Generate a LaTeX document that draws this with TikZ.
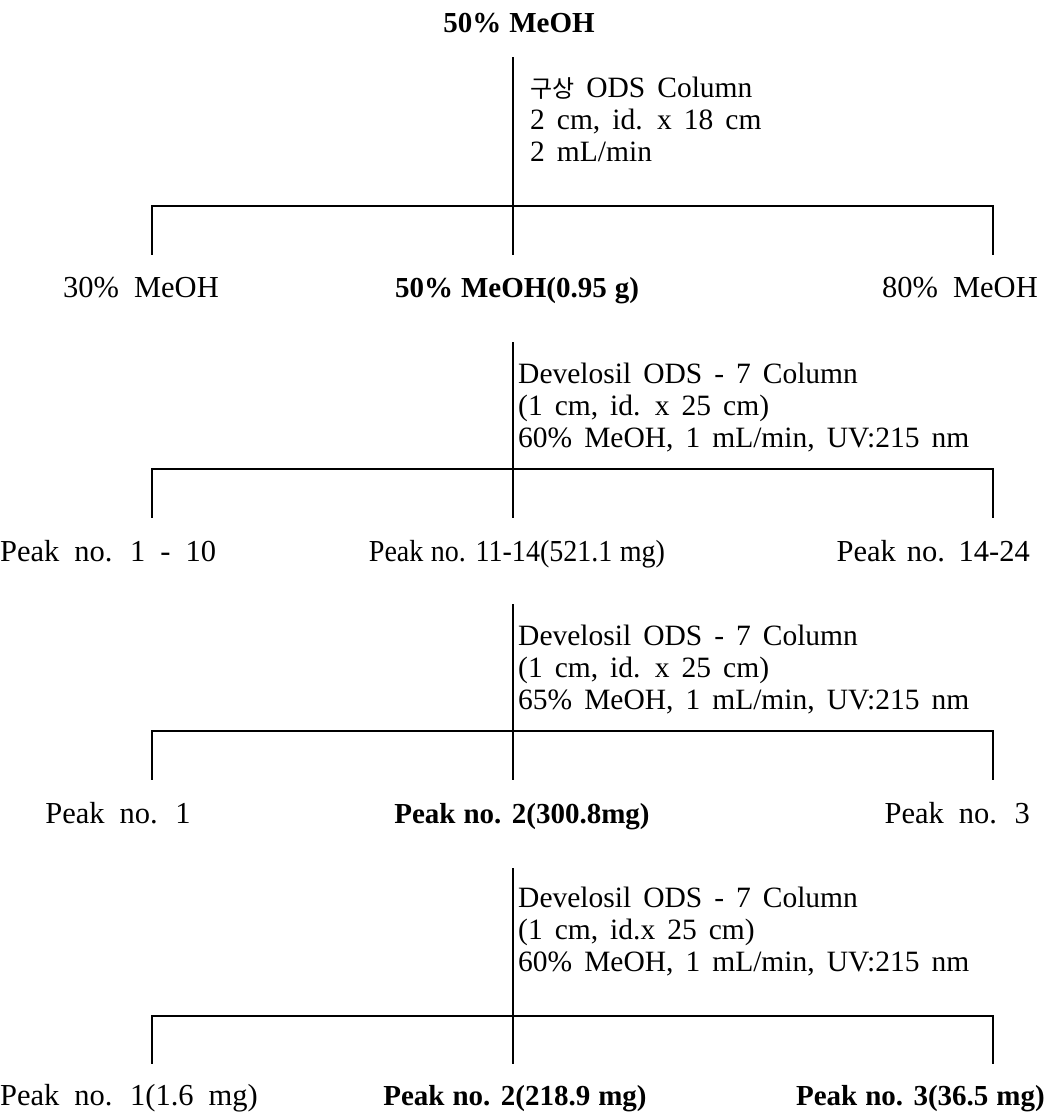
\documentclass[tikz,border=0pt]{standalone}
\usepackage{fontspec}
\newfontfamily\labfamily{Liberation Serif}
\newfontfamily\korfamily{Noto Sans CJK KR}
\newcommand{\labsize}{\fontsize{30.5}{32}\selectfont}
\newcommand{\labbsize}{\fontsize{29}{32}\selectfont}
\newcommand{\blksize}{\fontsize{29.5}{32}\selectfont}
\tikzset{
  ln/.style={line width=1.4pt, line cap=rect},
  ws/.style={execute at begin node={\spaceskip=#1pt\relax}},
  lab/.style={font=\labfamily\labsize, inner sep=0pt, ws=15},
  labb/.style={font=\labfamily\labbsize\bfseries, inner sep=0pt, ws=8},
  blk/.style={font=\labfamily\blksize, align=left, anchor=north west, inner sep=0pt, ws=12},
}
\newcommand{\blkstrut}{\rule{0pt}{25pt}}
\begin{document}
\begin{tikzpicture}[x=1pt,y=-1pt]
\useasboundingbox (0,0) rectangle (1050,1113);
% title
\node[labb, anchor=base] (title) at (519,33) {50\% MeOH};
% ---------- stage 1
\coordinate (top1) at (513,58);
\coordinate (bl1) at (152,206); \coordinate (br1) at (993,206);
\coordinate (el1) at (152,254); \coordinate (ec1) at (513,254); \coordinate (er1) at (993,254);
\draw[ln] (top1) -- (ec1);
\draw[ln] (el1) -- (bl1) -- (br1) -- (er1);
\node[blk] (blk1) at (530,72) {\blkstrut{\korfamily\fontsize{24}{32}\selectfont 구상} ODS Column\\2 cm, id. x 18 cm\\2 mL/min};
\node[lab, anchor=base] (r1l) at (141,297) {30\% MeOH};
\node[labb, anchor=base] (r1m) at (517,297) {50\% MeOH(0.95 g)};
\node[lab, anchor=base east] (r1r) at (1038,297) {80\% MeOH};
% ---------- stage 2
\coordinate (top2) at (513,343);
\coordinate (bl2) at (152,469); \coordinate (br2) at (993,469);
\coordinate (el2) at (152,517); \coordinate (ec2) at (513,517); \coordinate (er2) at (993,517);
\draw[ln] (top2) -- (ec2);
\draw[ln] (el2) -- (bl2) -- (br2) -- (er2);
\node[blk] (blk2) at (518,358) {\blkstrut Develosil ODS - 7 Column\\(1 cm, id. x 25 cm)\\60\% MeOH, 1 mL/min, UV:215 nm};
\node[lab, anchor=base west] (r2l) at (0,561) {Peak no. 1 - 10};
\node[lab, ws=8, anchor=base] (r2m) at (517,561) {\scalebox{0.92}[1]{Peak no. 11-14(521.1 mg)}};
\node[lab, ws=11, anchor=base east] (r2r) at (1030,561) {Peak no. 14-24};
% ---------- stage 3
\coordinate (top3) at (513,605);
\coordinate (bl3) at (152,731); \coordinate (br3) at (993,731);
\coordinate (el3) at (152,779); \coordinate (ec3) at (513,779); \coordinate (er3) at (993,779);
\draw[ln] (top3) -- (ec3);
\draw[ln] (el3) -- (bl3) -- (br3) -- (er3);
\node[blk] (blk3) at (518,620) {\blkstrut Develosil ODS - 7 Column\\(1 cm, id. x 25 cm)\\65\% MeOH, 1 mL/min, UV:215 nm};
\node[lab, anchor=base] (r3l) at (118,823) {Peak no. 1};
\node[labb, anchor=base] (r3m) at (522,823) {Peak no. 2(300.8mg)};
\node[lab, anchor=base east] (r3r) at (1030,823) {Peak no. 3};
% ---------- stage 4
\coordinate (top4) at (513,869);
\coordinate (bl4) at (152,1016); \coordinate (br4) at (993,1016);
\coordinate (el4) at (152,1063); \coordinate (ec4) at (513,1063); \coordinate (er4) at (993,1063);
\draw[ln] (top4) -- (ec4);
\draw[ln] (el4) -- (bl4) -- (br4) -- (er4);
\node[blk] (blk4) at (518,882) {\blkstrut Develosil ODS - 7 Column\\(1 cm, id.x 25 cm)\\60\% MeOH, 1 mL/min, UV:215 nm};
\node[lab, anchor=base west] (r4l) at (0,1105) {Peak no. 1(1.6 mg)};
\node[labb, anchor=base] (r4m) at (515,1105) {Peak no. 2(218.9 mg)};
\node[labb, anchor=base east] (r4r) at (1045,1105) {Peak no. 3(36.5 mg)};
\end{tikzpicture}
\end{document}
